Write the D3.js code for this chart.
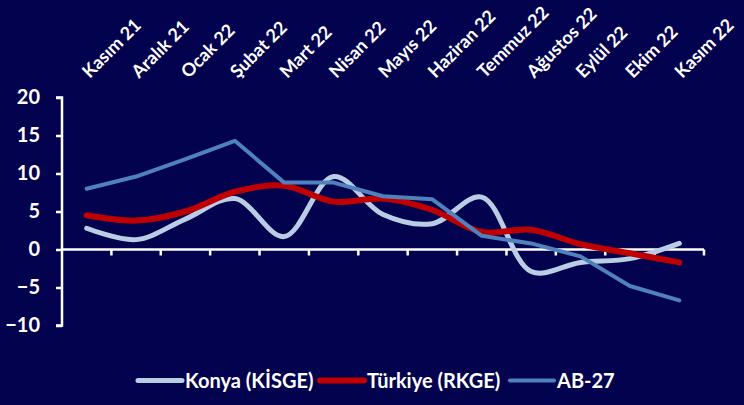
<!DOCTYPE html>
<html><head><meta charset="utf-8">
<script src="https://cdn.jsdelivr.net/npm/d3@7"></script>
<style>
html,body{margin:0;padding:0;background:#02024f;}
svg{display:block;}
text{font-family:Lato,"Open Sans",sans-serif;font-weight:bold;fill:#fff;}
</style></head><body>
<svg id="c" width="744" height="405"></svg>
<script>
const categories = ["Kasım 21","Aralık 21","Ocak 22","Şubat 22","Mart 22","Nisan 22","Mayıs 22","Haziran 22","Temmuz 22","Ağustos 22","Eylül 22","Ekim 22","Kasım 22"];
const konya   = [2.8, 1.3, 4.0, 6.7, 1.7, 9.6, 4.6, 3.4, 6.9, -2.9, -1.7, -1.2, 0.8];
const turkiye = [4.5, 3.8, 5.0, 7.6, 8.4, 6.3, 6.7, 5.2, 2.3, 2.6, 0.7, -0.5, -1.7];
const ab27    = [8.0, 9.6, 11.9, 14.3, 8.8, 8.8, 7.0, 6.6, 1.8, 0.8, -0.9, -4.8, -6.7];
const yTicks  = [20, 15, 10, 5, 0, -5, -10];
const seriesNames = ["Konya (KİSGE)", "Türkiye (RKGE)", "AB-27"];

const svg = d3.select("#c");
const x = d3.scaleBand().domain(categories).range([62, 704]);
const y = d3.scaleLinear().domain([-10, 20]).range([325.5, 97.5]);

// y axis
const ya = svg.append("g").attr("transform","translate(62,0)")
  .call(d3.axisLeft(y).tickValues(yTicks).tickSize(6).tickPadding(16));
ya.select(".domain").attr("stroke","#fff").attr("stroke-width",2.5).attr("d","M-6,"+y(20)+"H0V"+y(-10)+"H-6");
ya.selectAll(".tick line").attr("stroke","#fff").attr("stroke-width",2.5);
ya.selectAll(".tick text").style("font-size","20px").attr("fill","#fff");

// x axis at 0
const xa = svg.append("g").attr("transform","translate(0,"+y(0)+")");
xa.append("line").attr("x1",62).attr("x2",704).attr("stroke","#fff").attr("stroke-width",2.5);
const bounds = categories.map(c => x(c)).concat([x.range()[1]]).slice(1);
xa.selectAll("line.t").data(bounds).enter().append("line").attr("class","t")
  .attr("x1",d=>d).attr("x2",d=>d).attr("y1",0).attr("y2",6)
  .attr("stroke","#fff").attr("stroke-width",2.5);

// category labels on top
svg.append("g").selectAll("text").data(categories).enter().append("text")
  .attr("transform", d => "translate(" + (x(d)+x.bandwidth()/2 + 3) + ",79) rotate(-45)")
  .attr("text-anchor","start")
  .style("font-size","18px")
  .text(d => d);

const cx = (d,i) => x(categories[i]) + x.bandwidth()/2;
const smooth = d3.line().x(cx).y(d=>y(d)).curve(d3.curveCatmullRom.alpha(0.5));
const straight = d3.line().x(cx).y(d=>y(d));

const colors = ["#b9cde5", "#c00000", "#4f81bd"];
const widths = [5, 6, 4];

svg.append("path").datum(konya).attr("d", smooth).attr("fill","none")
  .attr("stroke",colors[0]).attr("stroke-width",widths[0]).attr("stroke-linecap","round");
svg.append("path").datum(turkiye).attr("d", smooth).attr("fill","none")
  .attr("stroke",colors[1]).attr("stroke-width",widths[1]).attr("stroke-linecap","round");
svg.append("path").datum(ab27).attr("d", straight).attr("fill","none")
  .attr("stroke",colors[2]).attr("stroke-width",widths[2]).attr("stroke-linecap","round").attr("stroke-linejoin","round");

// legend
const legX = [138, 320, 510];
const lg = svg.append("g");
seriesNames.forEach((n,i) => {
  lg.append("line").attr("x1",legX[i]).attr("x2",legX[i]+44).attr("y1",380.5).attr("y2",380.5)
    .attr("stroke",colors[i]).attr("stroke-width",widths[i]).attr("stroke-linecap","round");
  lg.append("text").attr("x",legX[i]+47).attr("y",388).style("font-size","20px").text(n);
});
</script>
</body></html>
